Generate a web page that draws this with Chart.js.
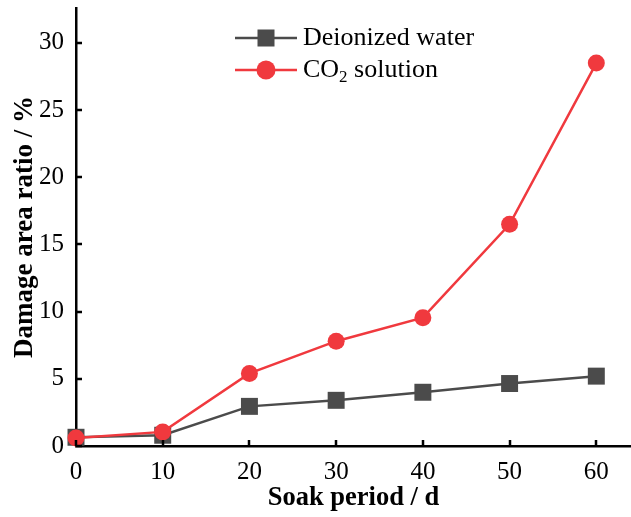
<!DOCTYPE html>
<html><head><meta charset="utf-8">
<script src="https://cdn.jsdelivr.net/npm/chart.js@4"></script>
<style>html,body{margin:0;padding:0;background:#fff}#wrap{width:631px;height:517px;position:relative}</style>
</head><body><div id="wrap"><canvas id="c"></canvas></div>
<script>
const soakDays = [0, 10, 20, 30, 40, 50, 60];
const deionizedWater = [0.65, 0.8, 2.95, 3.4, 4.0, 4.65, 5.2];
const co2Solution = [0.6, 1.05, 5.4, 7.8, 9.55, 16.5, 28.5];
const xTicks = [0, 10, 20, 30, 40, 50, 60];
const yTicks = [0, 5, 10, 15, 20, 25, 30];
const seriesNames = ['Deionized water', 'CO2 solution'];

const FONT = "'Liberation Serif', 'Times New Roman', serif";
const GRAY = '#4b4b4b', RED = '#f0393e';

const innerTicks = {
  id: 'innerTicks',
  afterDraw(chart) {
    const ctx = chart.ctx, xs = chart.scales.x, ys = chart.scales.y, a = chart.chartArea;
    ctx.save();
    ctx.strokeStyle = '#000'; ctx.lineWidth = 2.5;
    ctx.beginPath();
    xTicks.forEach(v => { const px = Math.round(xs.getPixelForValue(v)); ctx.moveTo(px, a.bottom); ctx.lineTo(px, a.bottom - 6); });
    yTicks.forEach(v => { const py = Math.round(ys.getPixelForValue(v)); ctx.moveTo(a.left, py); ctx.lineTo(a.left + 6, py); });
    ctx.stroke();
    ctx.restore();
  }
};

const customLegend = {
  id: 'customLegend',
  afterDraw(chart) {
    const ctx = chart.ctx;
    ctx.save();
    const x0 = 235, x1 = 297, mx = 266, tx = 303;
    let y = 38;
    ctx.strokeStyle = GRAY; ctx.lineWidth = 2.5;
    ctx.beginPath(); ctx.moveTo(x0, y); ctx.lineTo(x1, y); ctx.stroke();
    ctx.fillStyle = GRAY; ctx.fillRect(mx - 8.5, y - 8.5, 17, 17);
    ctx.fillStyle = '#000'; ctx.font = '26px ' + FONT; ctx.textBaseline = 'middle'; ctx.textAlign = 'left';
    ctx.fillText(seriesNames[0], tx, y);
    y = 70;
    ctx.strokeStyle = RED;
    ctx.beginPath(); ctx.moveTo(x0, y); ctx.lineTo(x1, y); ctx.stroke();
    ctx.fillStyle = RED; ctx.beginPath(); ctx.arc(mx, y, 9.5, 0, Math.PI * 2); ctx.fill();
    ctx.fillStyle = '#000';
    ctx.font = '26px ' + FONT;
    ctx.fillText('CO', tx, y);
    let w = ctx.measureText('CO').width;
    ctx.font = '17px ' + FONT;
    ctx.fillText('2', tx + w, y + 8);
    w += ctx.measureText('2').width;
    ctx.font = '26px ' + FONT;
    ctx.fillText(' solution', tx + w, y);
    ctx.restore();
  }
};

new Chart(document.getElementById('c'), {
  type: 'line',
  data: {
    datasets: [
      {
        label: seriesNames[1],
        data: soakDays.map((d, i) => ({ x: d, y: co2Solution[i] })),
        borderColor: RED, backgroundColor: RED, borderWidth: 2.5,
        pointStyle: 'circle', pointRadius: 8.5, pointBorderWidth: 0, order: 0, clip: false
      },
      {
        label: seriesNames[0],
        data: soakDays.map((d, i) => ({ x: d, y: deionizedWater[i] })),
        borderColor: GRAY, backgroundColor: GRAY, borderWidth: 2.5,
        pointStyle: 'rect', pointRadius: 12, pointBorderWidth: 0, order: 1, clip: false
      }
    ]
  },
  options: {
    responsive: true, maintainAspectRatio: false, animation: false,
    layout: { autoPadding: false, padding: { left: 0, right: 0, top: 8, bottom: 0 } },
    plugins: { legend: { display: false }, tooltip: { enabled: false } },
    scales: {
      x: {
        type: 'linear', min: 0, max: 64,
        afterFit(s) { s.height = 71; s.paddingLeft = 0; s.paddingRight = 0; },
        afterBuildTicks(s) { s.ticks = xTicks.map(v => ({ value: v })); },
        grid: { display: false },
        border: { display: true, color: '#000', width: 2.5 },
        ticks: { color: '#000', font: { family: FONT, size: 25 }, padding: 3, maxRotation: 0 },
        title: { display: true, text: 'Soak period / d', color: '#000', font: { family: FONT, size: 26.5, weight: 'bold' }, padding: { top: 0, bottom: 3 } }
      },
      y: {
        type: 'linear', min: 0, max: 32.6,
        afterFit(s) { s.width = 76; s.paddingTop = 0; s.paddingBottom = 0; },
        afterBuildTicks(s) { s.ticks = yTicks.map(v => ({ value: v })); },
        grid: { display: false },
        border: { display: true, color: '#000', width: 2.5 },
        ticks: { color: '#000', font: { family: FONT, size: 25 }, padding: 4 },
        title: { display: true, text: 'Damage area ratio / %', color: '#000', font: { family: FONT, size: 27, weight: 'bold' }, padding: { top: 9, bottom: 0 } }
      }
    }
  },
  plugins: [innerTicks, customLegend]
});
</script>
</body></html>
